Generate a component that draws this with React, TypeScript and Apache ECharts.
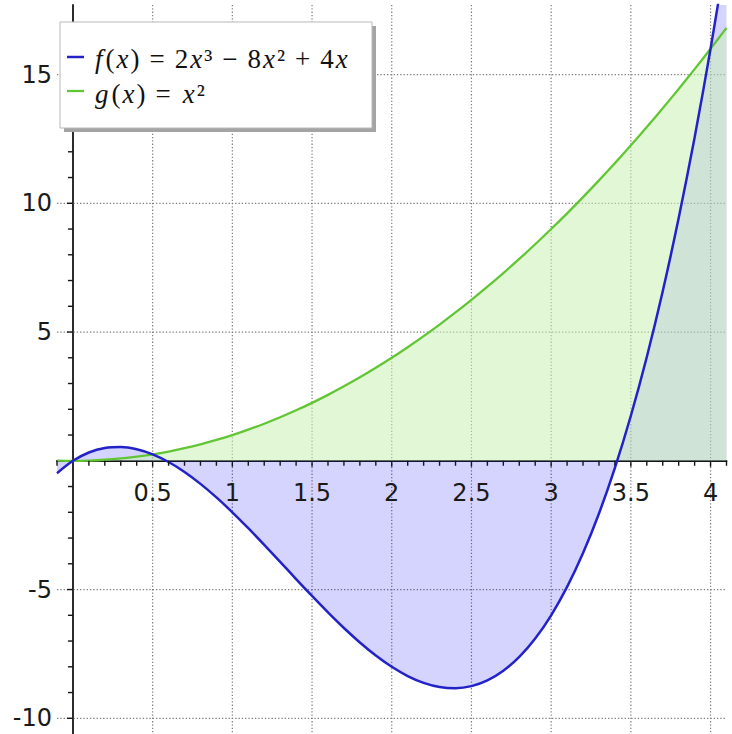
import React, { useEffect, useRef } from "react";
import * as echarts from "echarts";

// Sample points of the two plotted functions
const xs = [
  -0.1, 0, 0.1, 0.2, 0.3, 0.4, 0.5, 0.6, 0.7, 0.8, 0.9, 1.0, 1.1, 1.2, 1.3,
  1.4, 1.5, 1.6, 1.7, 1.8, 1.9, 2.0, 2.1, 2.2, 2.3, 2.4, 2.5, 2.6, 2.7, 2.8,
  2.9, 3.0, 3.1, 3.2, 3.3, 3.4, 3.5, 3.6, 3.7, 3.8, 3.9, 4.0, 4.1,
];
// f(x) = 2x^3 - 8x^2 + 4x
const fValues = [
  -0.482, 0, 0.322, 0.496, 0.534, 0.448, 0.25, -0.048, -0.434, -0.896, -1.422,
  -2, -2.618, -3.264, -3.926, -4.592, -5.25, -5.888, -6.494, -7.056, -7.562,
  -8, -8.358, -8.624, -8.786, -8.832, -8.75, -8.528, -8.154, -7.616, -6.902,
  -6, -4.898, -3.584, -2.046, -0.272, 1.75, 4.032, 6.586, 9.424, 12.558, 16,
  19.762,
];
// g(x) = x^2
const gValues = [
  0.01, 0, 0.01, 0.04, 0.09, 0.16, 0.25, 0.36, 0.49, 0.64, 0.81, 1, 1.21,
  1.44, 1.69, 1.96, 2.25, 2.56, 2.89, 3.24, 3.61, 4, 4.41, 4.84, 5.29, 5.76,
  6.25, 6.76, 7.29, 7.84, 8.41, 9, 9.61, 10.24, 10.89, 11.56, 12.25, 12.96,
  13.69, 14.44, 15.21, 16, 16.81,
];

// Axis ticks and labels
const xTickLabels = [0.5, 1, 1.5, 2, 2.5, 3, 3.5, 4];
const yTickLabels = [-10, -5, 5, 10, 15];
const xMinorTicks = [
  -0.1, 0.1, 0.2, 0.3, 0.4, 0.6, 0.7, 0.8, 0.9, 1.1, 1.2, 1.3, 1.4, 1.6, 1.7,
  1.8, 1.9, 2.1, 2.2, 2.3, 2.4, 2.6, 2.7, 2.8, 2.9, 3.1, 3.2, 3.3, 3.4, 3.6,
  3.7, 3.8, 3.9, 4.1,
];
const yMinorTicks = [
  -9, -8, -7, -6, -4, -3, -2, -1, 1, 2, 3, 4, 6, 7, 8, 9, 11, 12, 13, 14, 16,
  17,
];

const X_MIN = -0.1;
const X_MAX = 4.1;
const Y_MIN = -10.61;
const Y_MAX = 17.7;

const F_COLOR = "#2222c8";
const G_COLOR = "#62c634";
const F_FILL = "rgba(0, 0, 255, 0.17)";
const G_FILL = "rgba(202, 240, 180, 0.55)";
const AXIS_COLOR = "#161616";
const GRID_COLOR = "#7c7c7c";
const TICK_FONT = { fontFamily: "DejaVu Sans", fontSize: 24, fill: "#1a1a1a" };

function gridLineSeries(values: number[], dir: "x" | "y") {
  return {
    type: "custom",
    silent: true,
    z: 1,
    data: values.map((v) => (dir === "x" ? [v, 0] : [0, v])),
    renderItem: (params: any, api: any) => {
      const cs = params.coordSys;
      const p = api.coord([api.value(0), api.value(1)]);
      const shape =
        dir === "x"
          ? { x1: p[0], y1: cs.y, x2: p[0], y2: cs.y + cs.height }
          : { x1: cs.x, y1: p[1], x2: cs.x + cs.width, y2: p[1] };
      return {
        type: "line",
        shape,
        style: { stroke: GRID_COLOR, lineWidth: 1.2, lineDash: [1.3, 2] },
      };
    },
  };
}

function tickSeries(values: number[], dir: "x" | "y", len: number) {
  return {
    type: "custom",
    silent: true,
    z: 6,
    data: values.map((v) => (dir === "x" ? [v, 0] : [0, v])),
    renderItem: (_params: any, api: any) => {
      const p = api.coord([api.value(0), api.value(1)]);
      const shape =
        dir === "x"
          ? { x1: p[0], y1: p[1], x2: p[0], y2: p[1] + len }
          : { x1: p[0], y1: p[1], x2: p[0] - len, y2: p[1] };
      return {
        type: "line",
        shape,
        style: { stroke: AXIS_COLOR, lineWidth: 1.4 },
      };
    },
  };
}

// Tick labels sit beside the axis lines that cross at the origin
function tickLabelSeries(values: number[], dir: "x" | "y") {
  return {
    type: "custom",
    silent: true,
    z: 7,
    data: values.map((v) => (dir === "x" ? [v, 0] : [0, v])),
    renderItem: (_params: any, api: any) => {
      const v = dir === "x" ? api.value(0) : api.value(1);
      const p = api.coord([api.value(0), api.value(1)]);
      return {
        type: "text",
        x: dir === "x" ? p[0] : p[0] - 21,
        y: dir === "x" ? p[1] + 32 : p[1],
        style: {
          ...TICK_FONT,
          text: String(v),
          align: dir === "x" ? "center" : "right",
          verticalAlign: "middle",
        },
      };
    },
  };
}

const serif = { fontFamily: "Liberation Serif", fontSize: 27, fill: "#111" };
const legendRich = {
  f: { ...serif, fontStyle: "italic", padding: [0, 3, 0, 2] },
  i: { ...serif, fontStyle: "italic", padding: [0, 2] },
  n: { ...serif },
  op: { ...serif, padding: [0, 10] },
};

export default function App() {
  const ref = useRef<HTMLDivElement>(null);

  useEffect(() => {
    if (!ref.current) return;
    const chart = echarts.init(ref.current, null, { renderer: "svg" });
    const fData = xs.map((x, i) => [x, fValues[i]]);
    const gData = xs.map((x, i) => [x, gValues[i]]);

    chart.setOption({
      animation: false,
      backgroundColor: "#ffffff",
      grid: {
        left: 57,
        top: 5,
        width: 669.5,
        height: 729,
        containLabel: false,
        outerBoundsMode: "none",
      },
      xAxis: {
        type: "value",
        min: X_MIN,
        max: X_MAX,
        axisLine: { show: true, onZero: true, lineStyle: { color: AXIS_COLOR, width: 1.8 } },
        axisTick: { show: false },
        splitLine: { show: false },
        axisLabel: { show: false },
      },
      yAxis: {
        type: "value",
        min: Y_MIN,
        max: Y_MAX,
        axisLine: { show: true, onZero: true, lineStyle: { color: AXIS_COLOR, width: 1.8 } },
        axisTick: { show: false },
        splitLine: { show: false },
        axisLabel: { show: false },
      },
      series: [
        gridLineSeries(xTickLabels, "x"),
        gridLineSeries(yTickLabels, "y"),
        {
          type: "line",
          name: "f area",
          data: fData,
          symbol: "none",
          smooth: 0.3,
          silent: true,
          z: 2,
          lineStyle: { width: 0, opacity: 0 },
          areaStyle: { color: F_FILL, opacity: 1, origin: 0 },
        },
        {
          type: "line",
          name: "g area",
          data: gData,
          symbol: "none",
          smooth: 0.3,
          silent: true,
          z: 3,
          lineStyle: { width: 0, opacity: 0 },
          areaStyle: { color: G_FILL, opacity: 1, origin: 0 },
        },
        {
          type: "line",
          name: "g(x) = x^2",
          data: gData,
          symbol: "none",
          smooth: 0.3,
          silent: true,
          z: 4,
          lineStyle: { color: G_COLOR, width: 2.3 },
        },
        {
          type: "line",
          name: "f(x) = 2x^3 - 8x^2 + 4x",
          data: fData,
          symbol: "none",
          smooth: 0.3,
          silent: true,
          z: 5,
          lineStyle: { color: F_COLOR, width: 2.5 },
        },
        tickSeries(xTickLabels, "x", 6),
        tickSeries(xMinorTicks, "x", 5),
        tickSeries(yTickLabels, "y", 6),
        tickSeries(yMinorTicks, "y", 5),
        tickLabelSeries(xTickLabels, "x"),
        tickLabelSeries(yTickLabels, "y"),
      ],
      graphic: [
        {
          type: "rect",
          z: 100,
          shape: { x: 64, y: 26, width: 312, height: 106 },
          style: { fill: "#a4a4a4" },
        },
        {
          type: "rect",
          z: 101,
          shape: { x: 60, y: 22, width: 312, height: 106 },
          style: { fill: "#ffffff", stroke: "#b8b8b8", lineWidth: 1 },
        },
        {
          type: "line",
          z: 102,
          shape: { x1: 67, y1: 57, x2: 84, y2: 57 },
          style: { stroke: F_COLOR, lineWidth: 2.5 },
        },
        {
          type: "line",
          z: 102,
          shape: { x1: 67, y1: 91, x2: 84, y2: 91 },
          style: { stroke: G_COLOR, lineWidth: 2.3 },
        },
        {
          type: "text",
          z: 102,
          x: 93,
          y: 59,
          style: {
            text: "{f|f}{n|(}{i|x}{n|)}{op|=}{n|2}{i|x}{n|³}{op|−}{n|8}{i|x}{n|²}{op|+}{n|4}{i|x}",
            rich: legendRich,
            verticalAlign: "middle",
          },
        },
        {
          type: "text",
          z: 102,
          x: 93,
          y: 94,
          style: {
            text: "{f|g}{n|(}{i|x}{n|)}{op|=}{i|x}{n|²}",
            rich: legendRich,
            verticalAlign: "middle",
          },
        },
      ],
    });

    return () => chart.dispose();
  }, []);

  return (
    <div
      ref={ref}
      style={{ position: "fixed", left: 0, top: 0, width: 732, height: 734 }}
    />
  );
}
